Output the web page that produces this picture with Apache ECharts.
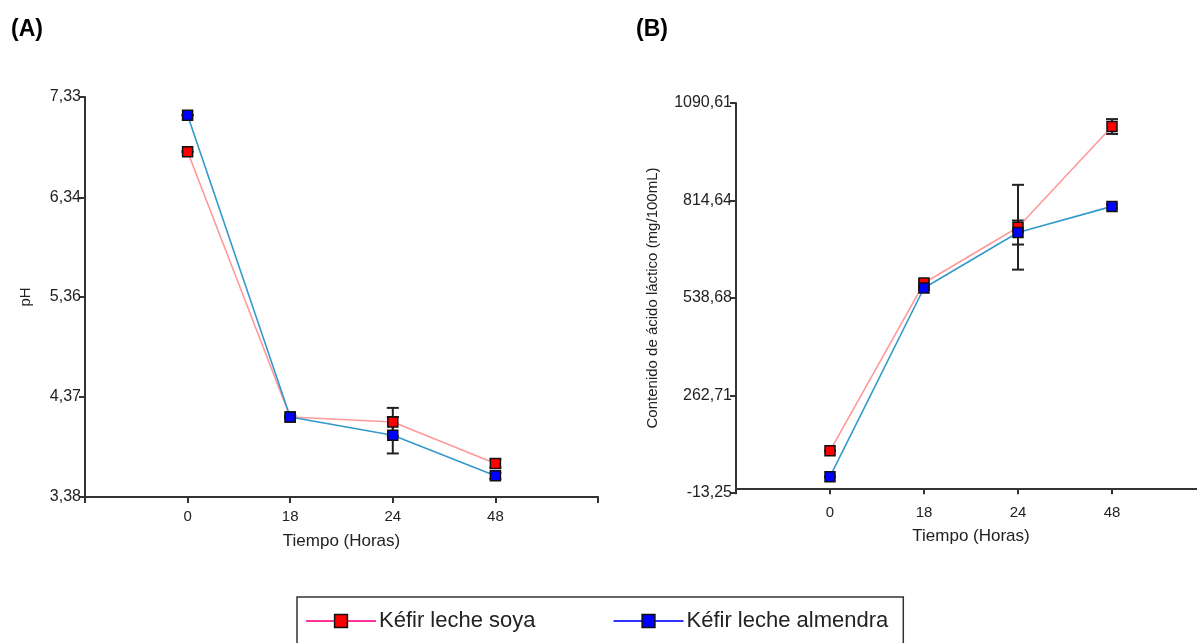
<!DOCTYPE html>
<html>
<head>
<meta charset="utf-8">
<script src="https://cdn.jsdelivr.net/npm/echarts@6/dist/echarts.min.js"></script>
<style>
  html, body { margin: 0; padding: 0; background: #fff; }
  #chart { width: 1197px; height: 643px; }
</style>
</head>
<body>
<div id="chart"></div>
<script>
// tiempo (horas)
const timeLabels = ['0', '18', '24', '48']

// (A) pH
const phSoya = [6.79, 4.17, 4.12, 3.71]
const phAlmendra = [7.15, 4.17, 3.99, 3.59]
const phSoyaErr = [0, 0.01, 0.14, 0.04]
const phAlmendraErr = [0, 0.01, 0.18, 0.03]
const phTicks = [3.38, 4.37, 5.36, 6.34, 7.33]

// (B) acido lactico mg/100mL
const acidSoya = [106, 581, 739, 1024]
const acidAlmendra = [33, 567, 724, 798]
const acidSoyaErr = [0, 8, 120, 21]
const acidAlmendraErr = [0, 5, 34, 5]
const acidTicks = [-13.25, 262.71, 538.68, 814.64, 1090.61]

const FONT = 'Liberation Sans, Arial, sans-serif'
const axisColor = '#333'
const fmt = (v) => v.toFixed(2).replace('.', ',')

// pad categories so the axis has a blank slot at each end
const xCats = ['', ...timeLabels, '']
const pad = (arr) => [null, ...arr, null]
const errData = (vals, errs) => vals.map((v, i) => [i + 1, v - errs[i], v + errs[i]])

const chart = echarts.init(document.getElementById('chart'))

const xAxisBase = (gridIndex) => ({
  type: 'category',
  gridIndex,
  data: xCats,
  boundaryGap: false,
  name: 'Tiempo (Horas)',
  nameLocation: 'middle',
  nameGap: 36,
  nameTextStyle: { fontFamily: FONT, fontSize: 17, color: '#222' },
  axisLine: { lineStyle: { color: axisColor, width: 2 } },
  axisTick: { alignWithLabel: true, length: 6, lineStyle: { color: axisColor, width: 2 }, interval: 0 },
  axisLabel: { fontFamily: FONT, fontSize: 15, color: '#222', margin: 12, interval: 0 },
  splitLine: { show: false },
})

const yAxisBase = (gridIndex, ticks, name, nameGap) => ({
  type: 'value',
  gridIndex,
  min: ticks[0],
  max: ticks[ticks.length - 1],
  name,
  nameLocation: 'middle',
  nameGap,
  nameTextStyle: { fontFamily: FONT, fontSize: 15, color: '#222' },
  axisLine: { show: true, lineStyle: { color: axisColor, width: 2 } },
  axisTick: { show: true, length: 6, lineStyle: { color: axisColor, width: 2 }, customValues: ticks },
  axisLabel: { fontFamily: FONT, fontSize: 16, color: '#222', margin: 4, customValues: ticks, formatter: fmt },
  splitLine: { show: false },
})

const lineSeries = (name, data, idx, lineColor, fill) => ({
  name,
  type: 'line',
  xAxisIndex: idx,
  yAxisIndex: idx,
  data: pad(data),
  symbol: 'rect',
  symbolSize: 10,
  connectNulls: false,
  lineStyle: { color: lineColor, width: 1.6 },
  itemStyle: { color: fill, borderColor: '#111', borderWidth: 1.5 },
  z: 3,
})

const errSeries = (name, vals, errs, idx) => ({
  name,
  type: 'custom',
  xAxisIndex: idx,
  yAxisIndex: idx,
  data: errData(vals, errs),
  z: 2,
  silent: true,
  renderItem: (params, api) => {
    const lo = api.coord([api.value(0), api.value(1)])
    const hi = api.coord([api.value(0), api.value(2)])
    const w = 6
    const style = { stroke: '#222', lineWidth: 2 }
    return {
      type: 'group',
      children: [
        { type: 'line', shape: { x1: lo[0], y1: lo[1], x2: hi[0], y2: hi[1] }, style },
        { type: 'line', shape: { x1: lo[0] - w, y1: lo[1], x2: lo[0] + w, y2: lo[1] }, style },
        { type: 'line', shape: { x1: hi[0] - w, y1: hi[1], x2: hi[0] + w, y2: hi[1] }, style },
      ],
    }
  },
})

chart.setOption({
  animation: false,
  backgroundColor: '#fff',
  title: [
    { text: '(A)', left: 6, top: 13, textStyle: { fontFamily: FONT, fontSize: 23, fontWeight: 'bold', color: '#000' } },
    { text: '(B)', left: 631, top: 13, textStyle: { fontFamily: FONT, fontSize: 23, fontWeight: 'bold', color: '#000' } },
  ],
  legend: {
    left: 297,
    top: 597,
    orient: 'horizontal',
    itemWidth: 70,
    itemHeight: 16,
    itemGap: 77,
    padding: [13, 15, 40, 8],
    borderColor: '#333',
    borderWidth: 1.5,
    textStyle: { fontFamily: FONT, fontSize: 22, color: '#222', padding: [0, 0, 0, -2] },
    data: [
      {
        name: 'Kéfir leche soya',
        lineStyle: { color: '#ff3399', width: 2 },
        itemStyle: { color: '#ff0000', borderColor: '#111', borderWidth: 1.5 },
      },
      {
        name: 'Kéfir leche almendra',
        lineStyle: { color: '#3333ff', width: 2 },
        itemStyle: { color: '#0000ff', borderColor: '#111', borderWidth: 1.5 },
      },
    ],
  },
  grid: [
    { left: 85, top: 97, width: 513, height: 400, outerBoundsMode: 'none' },
    { left: 736, top: 103, width: 470, height: 390, outerBoundsMode: 'none' },
  ],
  xAxis: [xAxisBase(0), { ...xAxisBase(1), nameGap: 35 }],
  yAxis: [
    yAxisBase(0, phTicks, 'pH', 52),
    yAxisBase(1, acidTicks, 'Contenido de ácido láctico (mg/100mL)', 76),
  ],
  series: [
    errSeries('errSoyaA', phSoya, phSoyaErr, 0),
    errSeries('errAlmA', phAlmendra, phAlmendraErr, 0),
    lineSeries('Kéfir leche soya', phSoya, 0, '#ff9999', '#ff0000'),
    lineSeries('Kéfir leche almendra', phAlmendra, 0, '#3399cc', '#0000ff'),
    errSeries('errSoyaB', acidSoya, acidSoyaErr, 1),
    errSeries('errAlmB', acidAlmendra, acidAlmendraErr, 1),
    lineSeries('Kéfir leche soya', acidSoya, 1, '#ff9999', '#ff0000'),
    lineSeries('Kéfir leche almendra', acidAlmendra, 1, '#3399cc', '#0000ff'),
  ],
})

window.addEventListener('resize', () => chart.resize())
</script>
</body>
</html>
